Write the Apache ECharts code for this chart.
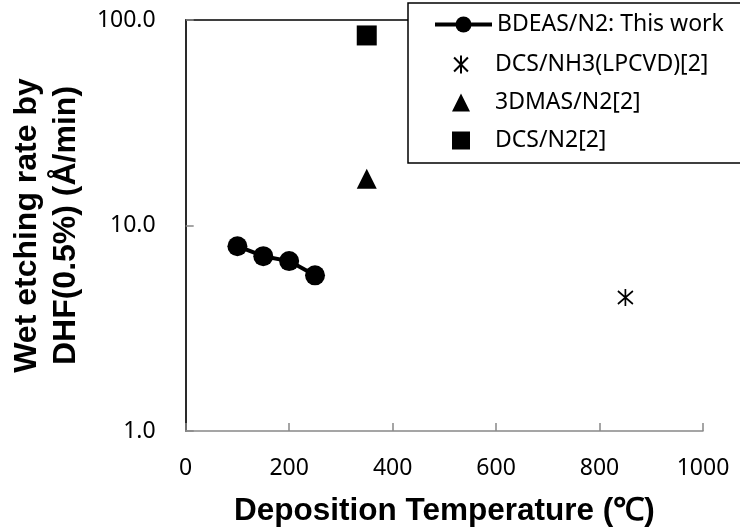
<!DOCTYPE html>
<html>
<head>
<meta charset="utf-8">
<script src="https://cdn.jsdelivr.net/npm/echarts@6/dist/echarts.min.js"></script>
<style>html,body{margin:0;padding:0;background:#fff;}#c{width:740px;height:532px;}</style>
</head>
<body>
<div id="c"></div>
<script>
var xTicks = [0, 200, 400, 600, 800, 1000];
var yTicks = [1, 10, 100];
var bdeasTemp = [100, 150, 200, 250];
var bdeasRate = [7.93, 7.09, 6.71, 5.72];
var dcsNh3 = [[850, 4.46]];
var dmas = [[350, 16.9]];
var dcsN2 = [[350, 84.1]];
var seriesNames = ['BDEAS/N2: This work', 'DCS/NH3(LPCVD)[2]', '3DMAS/N2[2]', 'DCS/N2[2]'];

var chart = echarts.init(document.getElementById('c'));
var labelFont = 'Noto Sans';
var titleFont = 'Liberation Sans';
var asterisk = 'path://M0,0L10,10M10,0L0,10M5,-1.5L5,11.5';

chart.setOption({
  animation: false,
  backgroundColor: '#fff',
  grid: { left: 183, right: 37, top: 20, bottom: 100 },
  xAxis: [{
    type: 'value', min: xTicks[0], max: xTicks[xTicks.length - 1], interval: 200,
    position: 'bottom',
    name: 'Deposition Temperature (℃)', nameLocation: 'middle', nameGap: 64,
    nameTextStyle: { fontFamily: titleFont, fontWeight: 'bold', fontSize: 31.5, color: '#000' },
    axisLine: { show: true, lineStyle: { color: '#888', width: 1.5 } },
    axisTick: { show: true, inside: true, length: 8, lineStyle: { color: '#888', width: 1.5 } },
    axisLabel: { margin: 26, fontFamily: labelFont, fontSize: 23, color: '#000',
      formatter: function (v) { return String(v); } },
    splitLine: { show: false }
  }, {
    type: 'value', min: xTicks[0], max: xTicks[xTicks.length - 1], interval: 200,
    position: 'top',
    axisLine: { show: true, lineStyle: { color: '#000', width: 1.5 } },
    axisTick: { show: false }, axisLabel: { show: false }, splitLine: { show: false }
  }],
  yAxis: [{
    type: 'log', logBase: 10, min: yTicks[0], max: yTicks[yTicks.length - 1],
    position: 'left',
    name: 'Wet etching rate by\nDHF(0.5%) (Å/min)', nameLocation: 'middle', nameGap: 96,
    nameTextStyle: { fontFamily: titleFont, fontWeight: 'bold', fontSize: 32, lineHeight: 39, color: '#000' },
    axisLine: { show: true, lineStyle: { color: '#888', width: 1.5 } },
    axisTick: { show: true, inside: true, length: 8, lineStyle: { color: '#888', width: 1.5 } },
    axisLabel: { margin: 30, fontFamily: labelFont, fontSize: 23, color: '#000',
      formatter: function (v) { return Number(v).toFixed(1); } },
    minorTick: { show: false },
    splitLine: { show: false }
  }, {
    type: 'log', logBase: 10, min: yTicks[0], max: yTicks[yTicks.length - 1],
    position: 'right',
    axisLine: { show: true, lineStyle: { color: '#000', width: 1.5 } },
    axisTick: { show: false }, axisLabel: { show: false }, splitLine: { show: false }
  }],
  legend: [{
    data: [seriesNames[0]],
    left: 408, top: 3,
    orient: 'vertical',
    padding: [10, 40, 127, 25],
    backgroundColor: '#fff', borderColor: '#000', borderWidth: 1.5,
    itemWidth: 57, itemHeight: 20,
    lineStyle: { width: 4, color: '#000' },
    textStyle: { fontFamily: labelFont, fontSize: 23, color: '#000' },
    z: 10
  }, {
    data: seriesNames.slice(1),
    left: 452, top: 53,
    orient: 'vertical',
    itemGap: 15,
    padding: 0,
    itemWidth: 18, itemHeight: 18,
    textStyle: { fontFamily: labelFont, fontSize: 23, color: '#000', padding: [0, 0, 0, 20] },
    z: 11
  }],
  series: [{
    name: seriesNames[0], type: 'line',
    data: bdeasTemp.map(function (t, i) { return [t, bdeasRate[i]]; }),
    symbol: 'circle', symbolSize: 20,
    lineStyle: { color: '#000', width: 4 },
    itemStyle: { color: '#000', opacity: 1 },
    emphasis: { disabled: true }
  }, {
    name: seriesNames[1], type: 'scatter', data: dcsNh3,
    symbol: asterisk, symbolSize: [15, 17],
    itemStyle: { color: 'rgba(0,0,0,0)', borderColor: '#000', borderWidth: 1.8, opacity: 1 },
    emphasis: { disabled: true }
  }, {
    name: seriesNames[2], type: 'scatter', data: dmas,
    symbol: 'triangle', symbolSize: 20,
    itemStyle: { color: '#000', opacity: 1 },
    emphasis: { disabled: true }
  }, {
    name: seriesNames[3], type: 'scatter', data: dcsN2,
    symbol: 'rect', symbolSize: 20,
    itemStyle: { color: '#000', opacity: 1 },
    emphasis: { disabled: true }
  }]
});
</script>
</body>
</html>
